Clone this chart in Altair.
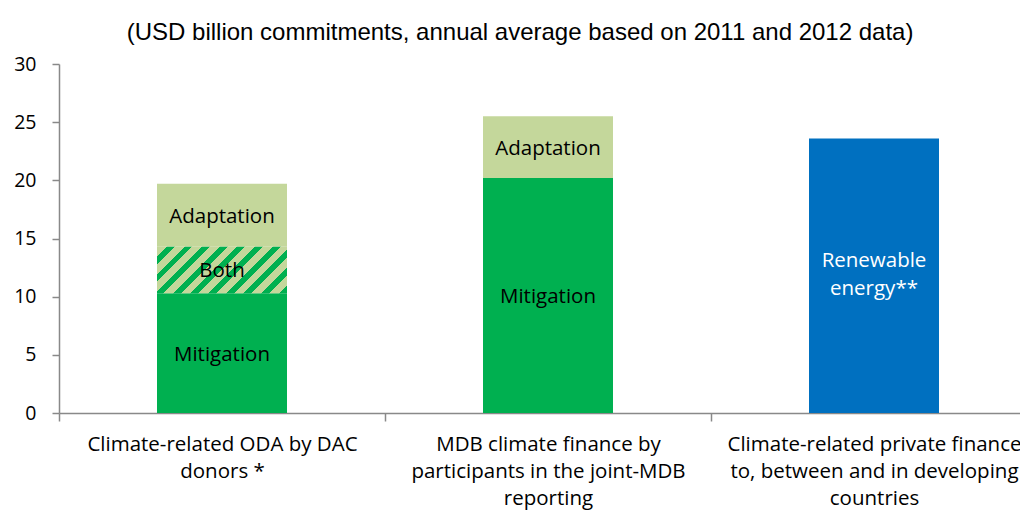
import altair as alt
import pandas as pd

# ---- data ----
cat_lines = [
    ["Climate-related ODA by DAC", "donors *"],
    ["MDB climate finance by", "participants in the joint-MDB", "reporting"],
    ["Climate-related private finance", "to, between and in developing", "countries"],
]
categories = ["|".join(l) for l in cat_lines]

seg_category = [categories[0], categories[0], categories[0], categories[1], categories[1], categories[2]]
seg_component = ["Mitigation", "Both", "Adaptation", "Mitigation", "Adaptation", "Renewable energy**"]
seg_label = ["Mitigation", "Both", "Adaptation", "Mitigation", "Adaptation", "Renewable|energy**"]
seg_value = [10.3, 4.0, 5.4, 20.2, 5.3, 23.6]

y_ticks = [0, 5, 10, 15, 20, 25, 30]
title_text = "(USD billion commitments, annual average based on 2011 and 2012 data)"

# ---- build table ----
df = pd.DataFrame({"category": seg_category, "component": seg_component,
                   "label": seg_label, "value": seg_value})
df["end"] = df.groupby("category")["value"].cumsum()
df["start"] = df["end"] - df["value"]
df["mid"] = (df["start"] + df["end"]) / 2

LEFT = 59
W_PLOT, H_PLOT = 1020 - LEFT, 349
X_RANGE = 978          # the plot runs past the right edge of the picture
BAR_W = 130
GREEN, LIGHT, BLUE = "#00B050", "#C4D79B", "#0070C0"
AXIS_GREY = "#898989"
FONT = "Open Sans"

# diagonal hatch for "Both" as a hard-stop gradient
both_h = float(df.loc[df.component == "Both", "value"].iloc[0]) / 30 * H_PLOT
r = both_h / BAR_W
s = (BAR_W + both_h) / (BAR_W + both_h ** 2 / BAR_W)
n = 10
stops = []
for k in range(n):
    a = k / n
    b = (k + 0.55) / n
    c = (k + 1) / n
    stops += [{"offset": a, "color": LIGHT}, {"offset": b, "color": LIGHT},
              {"offset": b, "color": GREEN}, {"offset": c, "color": GREEN}]
hatch = {"gradient": "linear", "x1": 0, "y1": 0, "x2": s, "y2": s * r, "stops": stops}

x_enc = alt.X("category:N", sort=categories,
              scale=alt.Scale(paddingInner=0, paddingOuter=0, range=[0, X_RANGE]),
              axis=alt.Axis(title=None, labelAngle=0, tickBand="extent",
                            labelExpr="split(datum.label, '|')",
                            labelFont=FONT, labelFontSize=20.5, labelColor="black",
                            labelLineHeight=27, labelPadding=13, tickSize=8,
                            domainColor=AXIS_GREY, tickColor=AXIS_GREY,
                            domainWidth=1.5, tickWidth=1.5,
                            labelLimit=400))
y_scale = alt.Scale(domain=[0, 30], nice=False)
y_enc = alt.Y("start:Q", scale=y_scale,
              axis=alt.Axis(title=None, values=y_ticks, grid=False,
                            labelFont=FONT, labelFontSize=19.5, labelColor="black",
                            labelPadding=16, tickSize=7,
                            domainColor=AXIS_GREY, tickColor=AXIS_GREY,
                            domainWidth=1.5, tickWidth=1.5))

base = alt.Chart(df)

bars = base.transform_filter("datum.component != 'Both'").mark_bar(width=BAR_W).encode(
    x=x_enc, y=y_enc, y2="end:Q",
    color=alt.Color("component:N",
                    scale=alt.Scale(domain=["Mitigation", "Adaptation", "Renewable energy**"],
                                    range=[GREEN, LIGHT, BLUE]),
                    legend=None))

both = base.transform_filter("datum.component == 'Both'").mark_bar(
    width=BAR_W, fill=hatch).encode(x=x_enc, y=y_enc, y2="end:Q")

labels_single = base.transform_filter("indexof(datum.label, '|') < 0").mark_text(
    font=FONT, fontSize=20.5, baseline="middle", dy=1.5, color="black").encode(
    x=x_enc, y=alt.Y("mid:Q", scale=y_scale), text="label:N")

labels_multi = base.transform_filter("indexof(datum.label, '|') >= 0").transform_calculate(
    lines="split(datum.label, '|')").mark_text(
    font=FONT, fontSize=20.5, baseline="middle", lineHeight=28, dy=-14.5,
    color="white").encode(
    x=x_enc, y=alt.Y("mid:Q", scale=y_scale), text="lines:N")

chart = alt.layer(bars, both, labels_single, labels_multi).properties(
    width=W_PLOT, height=H_PLOT,
    title=alt.TitleParams(title_text, font="Liberation Sans", fontSize=24,
                          fontWeight="normal", color="black", offset=9,
                          anchor="start", dx=113),
    autosize=alt.AutoSizeParams(type="none"),
    padding={"left": LEFT, "top": 64, "right": 0, "bottom": 100},
).configure_view(stroke=None)

chart.save("out.html", embed_options={"renderer": "svg", "actions": False})
